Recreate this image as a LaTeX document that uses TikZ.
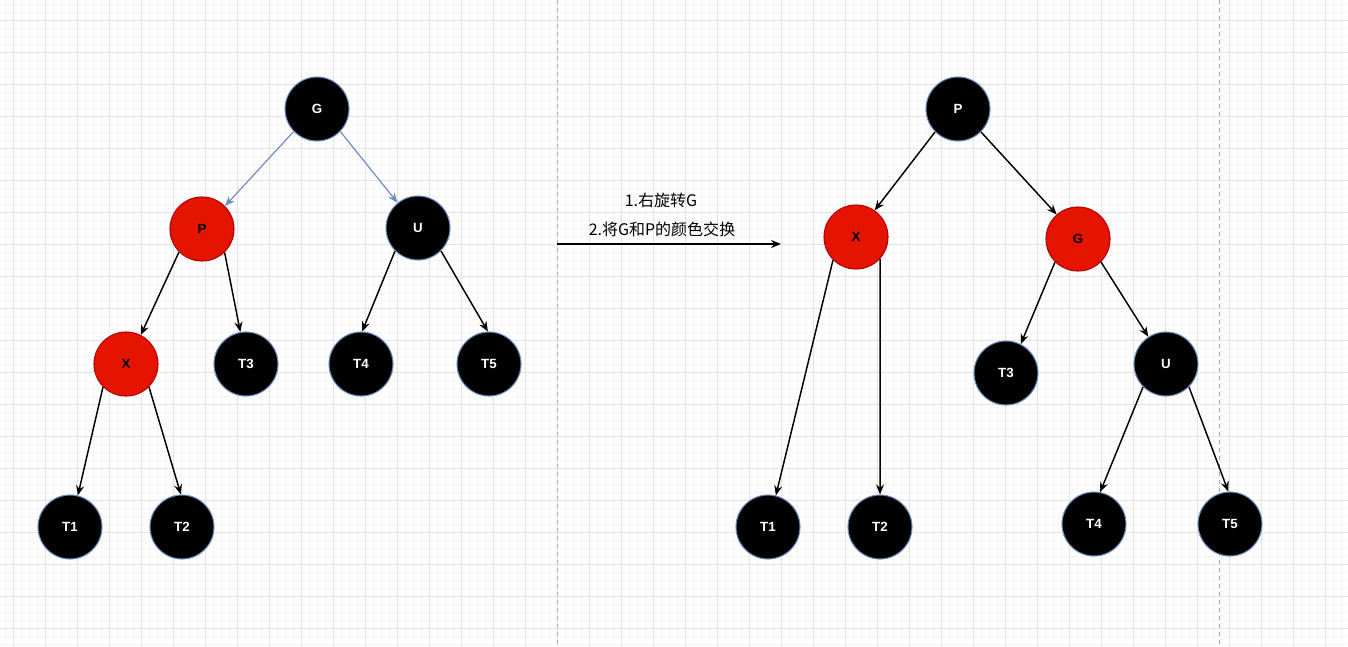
\documentclass[tikz,border=0pt]{standalone}
\usepackage{fontspec}
\setmainfont{Liberation Sans}
\newfontfamily\cjkfont{Noto Sans CJK SC}
\usetikzlibrary{arrows.meta}

\definecolor{rbfill}{HTML}{E51400}
\definecolor{rbline}{HTML}{B20000}
\definecolor{bluelink}{HTML}{6C8EBF}
\definecolor{gridminor}{HTML}{F6F6F6}
\definecolor{gridmajor}{HTML}{E3E3E3}

\begin{document}
\begin{tikzpicture}
    [
    x=0.75pt, y=-0.75pt,
    every node/.style={circle,minimum size=48pt,inner sep=0pt,line width=0.8pt,
      font=\bfseries\fontsize{10}{11}\selectfont},
    blacknode/.style={fill=black,draw=bluelink,text=white},
    rednode/.style={fill=rbfill,draw=rbline,text=black},
    link/.style={line width=1.1pt,-{Stealth[length=7.5pt,width=6pt,inset=2.5pt]}},
    bluearrow/.style={link,draw=bluelink,line width=0.9pt},
    caption/.style={rectangle,minimum size=0pt,font=\cjkfont\fontsize{12}{13}\selectfont},
    ]
    \useasboundingbox (0,0) rectangle (1348,646);
    % grid
    \foreach \x in {5,13,...,1348} \draw[gridminor,line width=0.6pt] (\x,0) -- (\x,646);
    \foreach \y in {4,12,...,646} \draw[gridminor,line width=0.6pt] (0,\y) -- (1348,\y);
    \foreach \x in {13,45,...,1348} \draw[gridmajor,line width=0.75pt] (\x,0) -- (\x,646);
    \foreach \y in {20,52,...,646} \draw[gridmajor,line width=0.75pt] (0,\y) -- (1348,\y);
    \draw[gray!70,dashed,line width=0.75pt] (557,0) -- (557,646);
    \draw[gray!70,dashed,line width=0.75pt] (1219,0) -- (1219,646);

    % before rotation
    \node[blacknode] (G) at (317,109) {G};
    \node[rednode] (P) at (202,229) {P};
    \node[blacknode] (U) at (418,228) {U};
    \node[rednode] (X) at (126,364) {X};
    \node[blacknode] (T3) at (246,364) {T3};
    \node[blacknode] (T4) at (361,364) {T4};
    \node[blacknode] (T5) at (489,364) {T5};
    \node[blacknode] (T1) at (70,527) {T1};
    \node[blacknode] (T2) at (182,527) {T2};

    \draw[bluearrow] (G.224) -- (P.45);
    \draw[bluearrow] (G.-44) -- (U.129);
    \draw[link] (P.-135) -- (X.63);
    \draw[link] (P.-46) -- (T3.100);
    \draw[link] (U.-135) -- (T4.88);
    \draw[link] (U.-45) -- (T5.92);
    \draw[link] (X.-135) -- (T1.76);
    \draw[link] (X.-45) -- (T2.92);

    % operation
    \coordinate (from) at (557,244);
    \coordinate (to) at (781,244);
    \draw[link,line width=0.9pt] (from) -- (to);
    \node[caption] (step1) at (661,200) {1.右旋转G};
    \node[caption] (step2) at (662,229) {2.将G和P的颜色交换};

    % after rotation
    \node[blacknode] (rP) at (958,109) {P};
    \node[rednode] (rX) at (856,237) {X};
    \node[rednode] (rG) at (1078,239) {G};
    \node[blacknode] (rT3) at (1006,373) {T3};
    \node[blacknode] (rU) at (1166,364) {U};
    \node[blacknode] (rT1) at (768,527) {T1};
    \node[blacknode] (rT2) at (880,527) {T2};
    \node[blacknode] (rT4) at (1094,524) {T4};
    \node[blacknode] (rT5) at (1230,524) {T5};

    \draw[link] (rP.-135) -- (rX.55);
    \draw[link] (rP.-45) -- (rG.131);
    \draw[link] (rX.-135) -- (rT1.76);
    \draw[link] (rX.-42) -- (rT2.90);
    \draw[link] (rG.-135) -- (rT3.63);
    \draw[link] (rG.-45) -- (rU.123);
    \draw[link] (rU.-135) -- (rT4.79);
    \draw[link] (rU.-45) -- (rT5.93);
  \end{tikzpicture}
\end{document}
